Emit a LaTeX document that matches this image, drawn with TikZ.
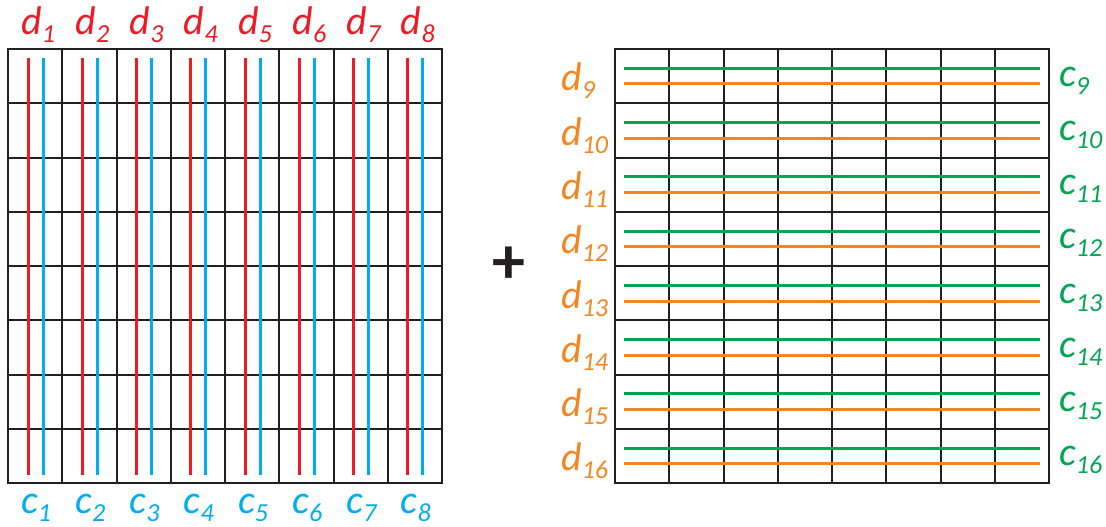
\documentclass[tikz,border=0pt]{standalone}
\usepackage{fontspec}
\setmainfont{Carlito}
\definecolor{dred}{RGB}{237,28,36}
\definecolor{cblue}{RGB}{0,174,239}
\definecolor{cgreen}{RGB}{0,166,81}
\definecolor{dorange}{RGB}{245,134,31}
\definecolor{gridc}{RGB}{35,31,32}
\newcommand\mylbl[2]{{\fontsize{40}{40}\selectfont\itshape #1}\raisebox{-8pt}{\fontsize{26}{26}\selectfont\itshape #2}}
\tikzset{
  gridline/.style={draw=gridc, line width=2pt, line cap=rect},
  wire/.style={line width=3pt},
  lab/.style={inner sep=0pt, anchor=base west},
}
\begin{document}
\begin{tikzpicture}[x=1pt,y=-1pt]
\useasboundingbox (0,0) rectangle (1106,527);
\def\cw{54.25}
% left grid
\foreach \i in {0,...,8} {
  \draw[gridline] ({8+\i*\cw},49) -- ({8+\i*\cw},483);
  \draw[gridline] (8,{49+\i*\cw}) -- (442,{49+\i*\cw});
}
% right grid
\foreach \i in {0,...,8} {
  \draw[gridline] ({615+\i*\cw},49) -- ({615+\i*\cw},483);
  \draw[gridline] (615,{49+\i*\cw}) -- (1049,{49+\i*\cw});
}
% vertical wires and labels (left)
\foreach \i [evaluate=\i as \n using int(\i+1)] in {0,...,7} {
  \draw[wire, dred] ({8+\i*\cw+20},58) -- ({8+\i*\cw+20},475);
  \draw[wire, cblue] ({8+\i*\cw+35},58) -- ({8+\i*\cw+35},475);
  \node[lab, text=dred] (d\n) at ({8+\i*\cw+13},35) {\mylbl{d}{\n}};
  \node[lab, text=cblue] (c\n) at ({8+\i*\cw+13},513) {\mylbl{c}{\n}};
}
% horizontal wires and labels (right)
\foreach \i [evaluate=\i as \n using int(\i+9)] in {0,...,7} {
  \draw[wire, cgreen] (624,{49+\i*\cw+19.3}) -- (1040,{49+\i*\cw+19.3});
  \draw[wire, dorange] (624,{49+\i*\cw+35}) -- (1040,{49+\i*\cw+35});
  \node[lab, text=dorange] (d\n) at (561,{49+\i*\cw+27+15}) {\mylbl{d}{\n}};
  \node[lab, text=cgreen] (c\n) at (1059,{49+\i*\cw+27+10}) {\mylbl{c}{\n}};
}
\node[text=gridc, inner sep=0pt] (plus) at (509,265) {\fontsize{66}{66}\selectfont\bfseries +};
\end{tikzpicture}
\end{document}
